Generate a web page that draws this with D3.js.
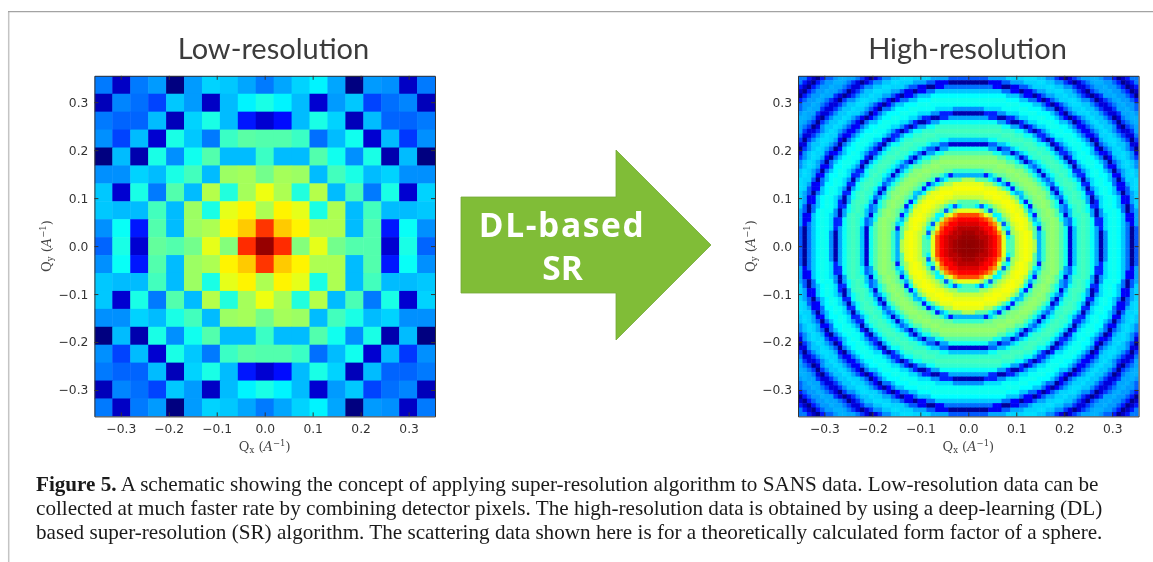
<!DOCTYPE html>
<html>
<head>
<meta charset="utf-8">
<script src="https://cdn.jsdelivr.net/npm/d3@7"></script>
<style>
  html, body { margin: 0; padding: 0; background: #fff; }
  svg { display: block; filter: blur(0.35px); }
  .tick text { font-family: "DejaVu Sans", sans-serif; font-size: 12.3px; fill: #333; }
  .tick line, .domain { stroke: #333; }
</style>
</head>
<body>
<div id="chart"></div>
<script>
// jet level (0-1) of each low-res cell
var lowRes = [
  [.22,.06,.22,.25,.00,.25,.30,.29,.26,.22,.26,.30,.33,.26,.00,.25,.24,.06,.22],
  [.05,.23,.21,.17,.29,.25,.06,.28,.33,.37,.33,.28,.07,.25,.29,.17,.21,.23,.05],
  [.22,.20,.20,.28,.05,.30,.37,.28,.13,.07,.12,.28,.37,.30,.05,.28,.20,.20,.22],
  [.24,.17,.28,.07,.37,.29,.22,.41,.45,.44,.44,.41,.21,.28,.36,.07,.28,.16,.24],
  [.00,.28,.04,.37,.24,.36,.44,.28,.28,.41,.28,.28,.44,.36,.24,.37,.04,.28,.00],
  [.24,.24,.30,.28,.37,.42,.28,.53,.54,.48,.54,.53,.28,.42,.37,.28,.30,.24,.24],
  [.29,.07,.37,.22,.44,.28,.56,.38,.54,.63,.55,.38,.56,.28,.43,.22,.37,.07,.30],
  [.29,.28,.28,.42,.28,.53,.37,.62,.66,.55,.66,.62,.37,.55,.28,.42,.28,.28,.29],
  [.24,.35,.13,.44,.28,.53,.55,.66,.70,.84,.70,.66,.55,.55,.28,.44,.13,.35,.24],
  [.20,.37,.07,.46,.44,.48,.62,.50,.85,.98,.85,.50,.62,.48,.44,.44,.07,.37,.20],
  [.24,.35,.13,.44,.28,.53,.55,.66,.70,.84,.70,.66,.55,.55,.28,.44,.13,.35,.24],
  [.29,.28,.28,.42,.28,.53,.37,.62,.66,.55,.66,.62,.37,.55,.28,.42,.28,.28,.29],
  [.29,.07,.37,.22,.44,.28,.56,.38,.54,.63,.55,.38,.56,.28,.43,.22,.37,.07,.30],
  [.24,.24,.30,.28,.37,.42,.28,.53,.54,.48,.54,.53,.28,.42,.37,.28,.30,.24,.24],
  [.00,.28,.04,.37,.24,.36,.44,.28,.28,.41,.28,.28,.44,.36,.24,.37,.04,.28,.00],
  [.24,.17,.28,.07,.37,.29,.22,.41,.45,.44,.44,.41,.21,.28,.36,.07,.28,.16,.24],
  [.22,.20,.20,.28,.05,.30,.37,.28,.13,.07,.12,.28,.37,.30,.05,.28,.20,.20,.22],
  [.05,.23,.21,.17,.29,.25,.06,.28,.33,.37,.33,.28,.07,.25,.29,.17,.21,.23,.05],
  [.22,.06,.22,.25,.00,.25,.30,.29,.26,.22,.26,.30,.33,.26,.00,.25,.24,.06,.22]
];

// high-res image is circular, so it is kept as a radial table read off the picture:
// radialEdge = outer radius of each band in detector bins, radialLevel = jet level of the band
var highResBins = 77;
var radialEdge = [
  .5,1.5,2.5,3.5,4.5,5.5,6.5,7,7.5,8,8.3,8.7,9.1,9.3,9.6,10,10.4,10.9,11.5,12.5,13.5,14.5,15.1,15.6,16,16.3,16.7,
  17,17.4,18,19,20,21,21.8,22.4,22.9,23.4,23.9,24.4,25,26,27,28,28.7,29.3,29.7,30.2,30.7,31.2,32,33,34,35,35.8,
  36.4,36.8,37.3,37.8,38.3,39,40,41,42,42.8,43.4,43.9,44.3,44.8,45.4,46,47,48,49,49.8,50.4,50.9,51.3,51.8,52.4,53
];
var radialLevel = [
  .99,.985,.98,.97,.95,.92,.89,.86,.82,.75,.62,.55,.42,.33,.19,.34,.44,.53,.58,.62,.64,.62,.55,.45,.35,.27,.13,
  .30,.40,.46,.50,.52,.50,.44,.36,.26,.07,.20,.29,.35,.40,.42,.40,.35,.26,.15,.04,.14,.24,.31,.35,.36,.34,.29,
  .21,.11,.02,.10,.19,.26,.30,.31,.29,.24,.16,.08,.01,.08,.16,.22,.26,.27,.25,.20,.13,.06,.01,.06,.13,.18,.22
];

var qTicks = [-0.3, -0.2, -0.1, 0, 0.1, 0.2, 0.3];
var qExtent = [-0.355, 0.355];

var captionLines = [
  [["Figure 5.", true], [" A schematic showing the concept of applying super-resolution algorithm to SANS data. Low-resolution data can be", false]],
  [["collected at much faster rate by combining detector pixels. The high-resolution data is obtained by using a deep-learning (DL)", false]],
  [["based super-resolution (SR) algorithm. The scattering data shown here is for a theoretically calculated form factor of a sphere.", false]]
];

var width = 1153, height = 562;

var svg = d3.select("#chart").append("svg")
    .attr("width", width)
    .attr("height", height);

// page rules of the journal layout
svg.append("line")
    .attr("x1", 8.7).attr("x2", 8.7).attr("y1", 12).attr("y2", 562)
    .attr("stroke", "#c4c4c4")
    .attr("stroke-width", 1.5);
svg.append("line")
    .attr("x1", 8).attr("x2", 1153).attr("y1", 11.7).attr("y2", 11.7)
    .attr("stroke", "#a3a3a3")
    .attr("stroke-width", 1.2);

// matplotlib jet
var jet = d3.scaleLinear()
    .domain([0, 0.11, 0.34, 0.65, 0.89, 1])
    .range(["#000080", "#0000ff", "#00ffff", "#ffff00", "#ff0000", "#800000"])
    .clamp(true);

var radial = d3.scaleThreshold().domain(radialEdge).range(radialLevel);

// flat cell lists for both panels
var lowCells = [];
lowRes.forEach(function(row, j) {
  row.forEach(function(v, i) { lowCells.push({i: i, j: j, v: v}); });
});

var highCells = [];
d3.range(highResBins).forEach(function(j) {
  d3.range(highResBins).forEach(function(i) {
    var c = (highResBins - 1) / 2;
    highCells.push({i: i, j: j, v: radial(Math.hypot(i - c, j - c))});
  });
});

function panel(id, left, top, size, bins, cells, title, titleX) {
  var g = svg.append("g").attr("transform", "translate(" + left + "," + top + ")");

  var x = d3.scaleLinear().domain(qExtent).range([0, size]);
  var y = d3.scaleLinear().domain(qExtent).range([size, 0]);
  var cell = d3.scaleBand().domain(d3.range(bins)).range([0, size]);

  svg.append("clipPath").attr("id", "clip" + id)
    .append("rect").attr("width", size).attr("height", size);

  g.append("g")
      .attr("clip-path", "url(#clip" + id + ")")
    .append("g")
      .style("filter", "blur(0.5px)")
    .selectAll("rect")
    .data(cells)
    .enter().append("rect")
      .attr("x", function(d) { return cell(d.i); })
      .attr("y", function(d) { return cell(d.j); })
      .attr("width", cell.bandwidth() + 0.5)
      .attr("height", cell.bandwidth() + 0.5)
      .attr("fill", function(d) { return jet(d.v); });

  var fmt = d3.format(".1f");
  g.append("g").attr("transform", "translate(0," + size + ")")
      .call(d3.axisBottom(x).tickValues(qTicks).tickFormat(fmt).tickSize(-4).tickSizeOuter(0).tickPadding(8));
  g.append("g")
      .call(d3.axisLeft(y).tickValues(qTicks).tickFormat(fmt).tickSize(-4).tickSizeOuter(0).tickPadding(6));
  g.append("g")
      .call(d3.axisTop(x).tickValues(qTicks).tickFormat("").tickSize(-4).tickSizeOuter(0));
  g.append("g").attr("transform", "translate(" + size + ",0)")
      .call(d3.axisRight(y).tickValues(qTicks).tickFormat("").tickSize(-4).tickSizeOuter(0));

  // axis labels
  var xl = g.append("text")
      .attr("x", x(0))
      .attr("y", size + 35)
      .attr("text-anchor", "middle")
      .style("font-family", "'DejaVu Serif', serif")
      .style("font-size", "13px")
      .attr("fill", "#444");
  axisLabel(xl, "x");

  var yl = g.append("text")
      .attr("transform", "translate(-43," + y(0) + ") rotate(-90)")
      .attr("text-anchor", "middle")
      .style("font-family", "'DejaVu Serif', serif")
      .style("font-size", "13px")
      .attr("fill", "#444");
  axisLabel(yl, "y");

  svg.append("text")
      .attr("x", titleX)
      .attr("y", 59)
      .attr("text-anchor", "middle")
      .style("font-family", "Lato, sans-serif")
      .style("font-size", "29px")
      .attr("fill", "#3c3c3c")
      .text(title);
}

function axisLabel(t, sub) {
  t.append("tspan").text("Q");
  t.append("tspan").attr("dy", 2).style("font-size", "8.5px").text(sub);
  t.append("tspan").attr("dy", -2).text(" (");
  t.append("tspan").style("font-style", "italic").text("A");
  t.append("tspan").attr("dy", -5).style("font-size", "8.5px").text("\u22121");
  t.append("tspan").attr("dy", 5).text(")");
}

panel("low", 94.4, 75.8, 340.6, 19, lowCells, "Low-resolution", 273.5);
panel("high", 798, 75.8, 340.6, highResBins, highCells, "High-resolution", 967.5);

// arrow between the panels
svg.append("path")
    .attr("d", "M461,197H616V150L711,245L616,340V293H461Z")
    .attr("fill", "#80bd37")
    .attr("stroke", "#73a838")
    .attr("stroke-width", 0.8);

svg.append("text")
    .attr("x", 562)
    .attr("y", 237)
    .attr("text-anchor", "middle")
    .style("font-family", "'Open Sans', sans-serif")
    .style("font-weight", "700")
    .style("font-size", "33.5px")
    .style("letter-spacing", "1.6px")
    .attr("fill", "#fff")
    .text("DL-based");

svg.append("text")
    .attr("x", 562.5)
    .attr("y", 280)
    .attr("text-anchor", "middle")
    .style("font-family", "'Open Sans', sans-serif")
    .style("font-weight", "700")
    .style("font-size", "33.5px")
    .attr("fill", "#fff")
    .text("SR");

// caption
captionLines.forEach(function(line, i) {
  var t = svg.append("text")
      .attr("x", 36)
      .attr("y", 491 + i * 24)
      .style("font-family", "'Liberation Serif', serif")
      .style("font-size", "21.15px")
      .attr("fill", "#1a1a1a");
  line.forEach(function(part) {
    t.append("tspan").style("font-weight", part[1] ? "700" : "400").text(part[0]);
  });
});
</script>
</body>
</html>
